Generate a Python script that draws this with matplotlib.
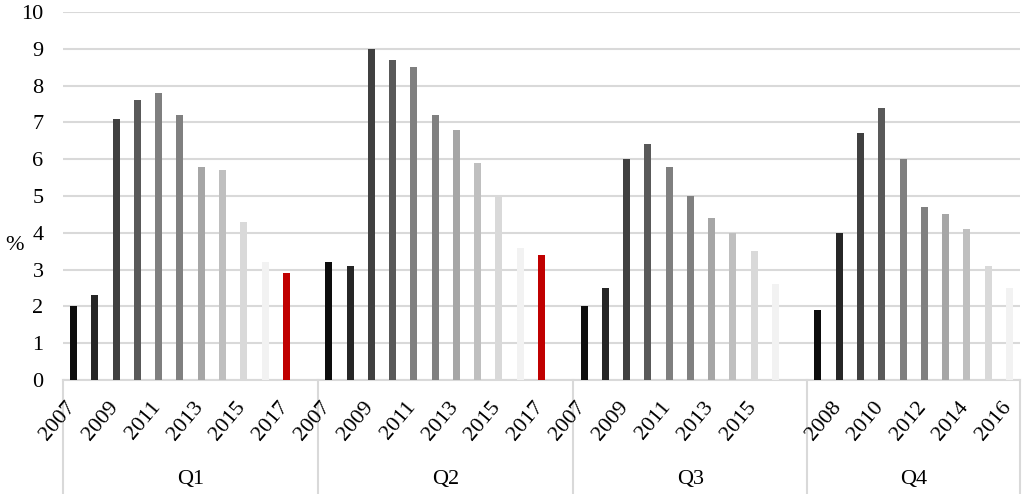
import matplotlib.pyplot as plt
import matplotlib.transforms as mtransforms

# values (%)
quarters = ["Q1", "Q2", "Q3", "Q4"]
q1_years = [2007, 2008, 2009, 2010, 2011, 2012, 2013, 2014, 2015, 2016, 2017]
q1_vals = [2.0, 2.3, 7.1, 7.6, 7.8, 7.2, 5.8, 5.7, 4.3, 3.2, 2.9]
q2_years = [2007, 2008, 2009, 2010, 2011, 2012, 2013, 2014, 2015, 2016, 2017]
q2_vals = [3.2, 3.1, 9.0, 8.7, 8.5, 7.2, 6.8, 5.9, 5.0, 3.6, 3.4]
q3_years = [2007, 2008, 2009, 2010, 2011, 2012, 2013, 2014, 2015, 2016]
q3_vals = [2.0, 2.5, 6.0, 6.4, 5.8, 5.0, 4.4, 4.0, 3.5, 2.6]
q4_years = [2007, 2008, 2009, 2010, 2011, 2012, 2013, 2014, 2015, 2016]
q4_vals = [1.9, 4.0, 6.7, 7.4, 6.0, 4.7, 4.5, 4.1, 3.1, 2.5]
# slots per quarter on the category axis (Excel leaves a blank one after Q1-Q3)
slots = [12, 12, 11, 10]

year_colors = {
    2007: "#0d0d0d", 2008: "#262626", 2009: "#404040", 2010: "#595959",
    2011: "#7f7f7f", 2012: "#808080", 2013: "#a6a6a6", 2014: "#bfbfbf",
    2015: "#d9d9d9", 2016: "#f2f2f2", 2017: "#c00000",
}

plt.rcParams["font.family"] = ["Liberation Serif", "DejaVu Serif"]
plt.rcParams["font.size"] = 16

fig = plt.figure(figsize=(10.23, 4.94), dpi=100)
ax = fig.add_axes([63 / 1023, 114 / 494, 957 / 1023, 368 / 494])

groups = [(q1_years, q1_vals), (q2_years, q2_vals), (q3_years, q3_vals), (q4_years, q4_vals)]
start = 0
tick_pos, tick_lab = [], []
bounds = [0]
for (yrs, vals), n in zip(groups, slots):
    for i, (yr, v) in enumerate(zip(yrs, vals)):
        ax.bar(start + i, v, width=0.33, color=year_colors[yr], zorder=3)
    for i in range(n):
        if (start + i) % 2 == 0 and i < len(yrs):
            tick_pos.append(start + i)
            tick_lab.append(str(yrs[i]))
    start += n
    bounds.append(start)

ax.set_xlim(-0.5, start - 0.5)
ax.set_ylim(0, 10)
ax.set_yticks(range(0, 11))
ax.yaxis.grid(True, color="#d9d9d9", linewidth=1.5, zorder=0)
ax.tick_params(axis="y", length=0, pad=14)
ax.set_xticks([])

for s in ["top", "right", "left"]:
    ax.spines[s].set_visible(False)
ax.spines["bottom"].set_color("#d9d9d9")
ax.spines["bottom"].set_linewidth(1.5)

trans = mtransforms.blended_transform_factory(ax.transData, ax.transAxes)
# year labels, rotated like Excel's category labels (anchored at end of baseline)
lab_trans = trans + mtransforms.ScaledTranslation(2 / 100, -27 / 100, fig.dpi_scale_trans)
for p, lab in zip(tick_pos, tick_lab):
    ax.text(p, 0, lab, transform=lab_trans, rotation=50, ha="right", va="baseline",
            rotation_mode="anchor")

for b in bounds:
    ax.plot([b - 0.5, b - 0.5], [0, -0.31], transform=trans, color="#d9d9d9",
            linewidth=1.5, clip_on=False)
for q, a, b in zip(quarters, bounds[:-1], bounds[1:]):
    ax.text((a + b - 1) / 2, -0.27, q, transform=trans, ha="center", va="center")

fig.text(15 / 1023, 1 - 245 / 494, "%", ha="center", va="center")

fig.savefig("out.png", dpi=100)
